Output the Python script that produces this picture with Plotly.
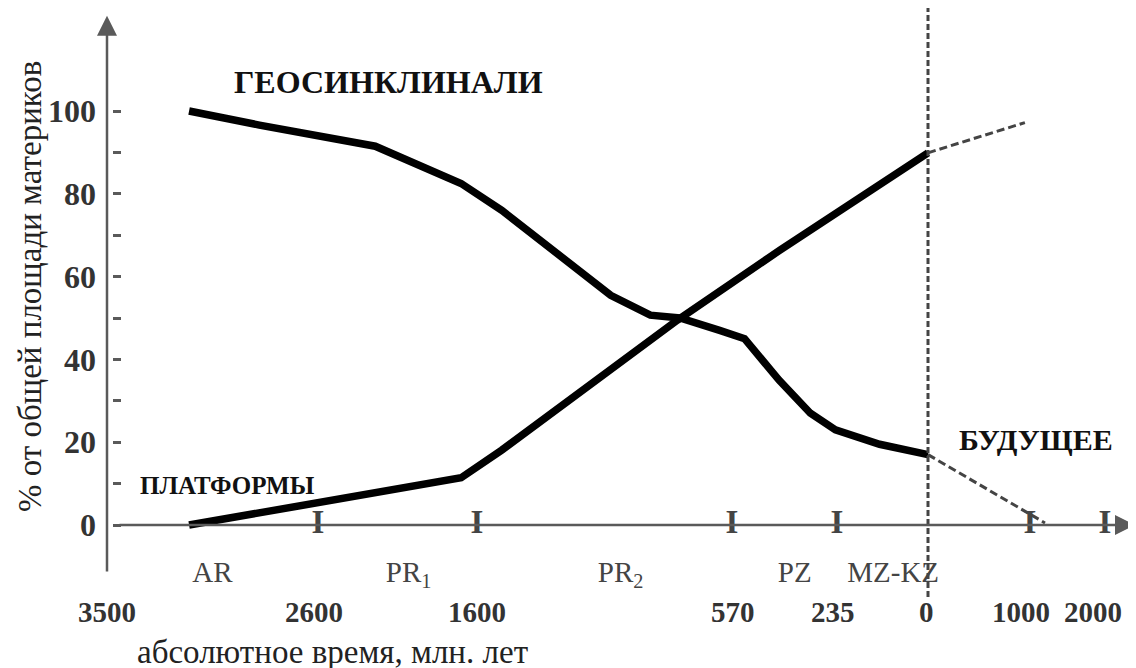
import numpy as np
import plotly.graph_objects as go

# ---- time scale (Ma; negative values = future) ----
TIME_TICKS = [3500, 2600, 1600, 570, 235, 0, -1000, -2000]
TIME_LABELS = ["3500", "2600", "1600", "570", "235", "0", "1000", "2000"]
TIME_LABEL_NUDGE = [0, -4, 0, 1, -4, -2, -9, -12]   # px, label offset from its tick
# relative drawn length of the non-linear time scale at each tick
SCALE_POS = [0, 211, 370, 625, 730, 821, 923, 998]
TICK_MARK_AGES = [2600, 1600, 570, 235, -1000, -2000]

ERA_NAMES = ["AR", "PR<sub>1</sub>", "PR<sub>2</sub>", "PZ", "MZ-KZ"]
ERA_LABEL_AGE = [3050, 2030, 1020, 370, 90]

# ---- series (% of total continental area) ----
GEO_AGE = [3150, 2850, 2240, 1700, 1500, 1265, 1060, 900, 780, 620, 530, 420, 320, 240, 125, 0]
GEO_PCT = [100, 96.6, 91.5, 82.5, 76, 65, 55.5, 50.7, 50, 47, 45, 35, 27, 23, 19.5, 17]
GEO_FUT_AGE = [0, -1200]
GEO_FUT_PCT = [17, 0.5]

PLAT_AGE = [3150, 2600, 2100, 1700, 1500, 1265, 790, 417, 200, 0]
PLAT_PCT = [0, 5.3, 8.9, 11.4, 18.1, 28.5, 49.5, 66.4, 77.5, 89.9]
PLAT_FUT_AGE = [0, -950]
PLAT_FUT_PCT = [89.9, 97.2]

Y_TICKS = [0, 20, 40, 60, 80, 100]
Y_MINOR = [10, 30, 50, 70, 90]


def sx(age):
    a = -np.asarray(age, dtype=float)
    return np.interp(a, -np.array(TIME_TICKS, dtype=float), SCALE_POS)


W, H = 1136, 668
OFF = 8  # page body margin
X_RANGE = [-99, 1037]
Y_RANGE = [-36.47, 124.88]

SERIF = "Liberation Serif, Times New Roman, serif"
AXC = "#5a5a5a"

fig = go.Figure()

fig.add_trace(go.Scatter(x=sx(GEO_AGE), y=GEO_PCT, mode="lines",
                         line=dict(color="#000", width=7.5), hoverinfo="skip"))
fig.add_trace(go.Scatter(x=sx(PLAT_AGE), y=PLAT_PCT, mode="lines",
                         line=dict(color="#000", width=7.5), hoverinfo="skip"))
fig.add_trace(go.Scatter(x=sx(GEO_FUT_AGE), y=GEO_FUT_PCT, mode="lines",
                         line=dict(color="#444", width=3, dash="8px,4px"), hoverinfo="skip"))
fig.add_trace(go.Scatter(x=sx(PLAT_FUT_AGE), y=PLAT_FUT_PCT, mode="lines",
                         line=dict(color="#444", width=3, dash="8px,4px"), hoverinfo="skip"))

# tick marks "I" on the time axis
fig.add_trace(go.Scatter(x=sx(TICK_MARK_AGES), y=[0] * len(TICK_MARK_AGES), mode="text",
                         text=["I"] * len(TICK_MARK_AGES), textposition="middle center",
                         textfont=dict(family=SERIF, size=33, color="#444", weight="bold"),
                         hoverinfo="skip"))

# era labels
fig.add_trace(go.Scatter(x=sx(ERA_LABEL_AGE), y=[-12.1] * len(ERA_NAMES), mode="text",
                         text=ERA_NAMES, textposition="middle center",
                         textfont=dict(family=SERIF, size=29, color="#444"), hoverinfo="skip"))

# time labels
for age, lab, nd in zip(TIME_TICKS, TIME_LABELS, TIME_LABEL_NUDGE):
    fig.add_annotation(x=float(sx(age)), y=-21.0, xref="x", yref="y", text=lab,
                       showarrow=False, xshift=nd, xanchor="center", yanchor="middle",
                       font=dict(family=SERIF, size=29, color="#333", weight="bold"))

# axes with arrows
x0 = float(sx(3500))
fig.add_annotation(x=x0, y=123, ax=x0, ay=-11.6, xref="x", yref="y", axref="x", ayref="y",
                   text="", showarrow=True, arrowhead=2, arrowsize=1.6, arrowwidth=2.5,
                   arrowcolor=AXC)
fig.add_annotation(x=1028, y=0, ax=11, ay=0, xref="x", yref="y", axref="x", ayref="y",
                   text="", showarrow=True, arrowhead=2, arrowsize=1.6, arrowwidth=2.5,
                   arrowcolor=AXC)

# present-day dashed line
fig.add_shape(type="line", x0=float(sx(0)), x1=float(sx(0)), y0=-17.4, y1=124.9,
              xref="x", yref="y", line=dict(color="#444", width=3, dash="6px,3px"))


def ann(text, px, py, size, bold=False, angle=0, color="#111"):
    fig.add_annotation(x=(px - OFF) / W, y=1 - (py - OFF) / H, xref="paper", yref="paper",
                       text=text, showarrow=False, textangle=angle,
                       xanchor="center", yanchor="middle",
                       font=dict(family=SERIF, size=size, color=color,
                                 weight="bold" if bold else "normal"))


ann("ГЕОСИНКЛИНАЛИ", 388, 82, 32, bold=True)
ann("ПЛАТФОРМЫ", 227, 485, 25, bold=True)
ann("БУДУЩЕЕ", 1036, 439, 30, bold=True)
ann("% от общей площади материков", 30, 287, 33, angle=-90, color="#222")
ann("абсолютное время, млн. лет", 332, 652, 33, color="#222")

fig.update_layout(
    width=W, height=H, margin=dict(l=0, r=0, t=0, b=0),
    paper_bgcolor="white", plot_bgcolor="white", showlegend=False,
    xaxis=dict(range=X_RANGE, visible=False, domain=[0, 1]),
    yaxis=dict(range=Y_RANGE, anchor="free",
               position=(x0 - X_RANGE[0] + 5) / (X_RANGE[1] - X_RANGE[0]),
               showgrid=False, zeroline=False, showline=False,
               tickmode="array", tickvals=Y_TICKS, ticks="inside", ticklen=8, tickwidth=2.5,
               tickcolor=AXC, ticklabelstandoff=16,
               tickfont=dict(family=SERIF, size=32, color="#333", weight="bold"),
               minor=dict(tickmode="array", tickvals=Y_MINOR, ticks="inside", ticklen=8,
                          tickwidth=2.5, tickcolor=AXC)),
)

fig.write_html("out.html")
